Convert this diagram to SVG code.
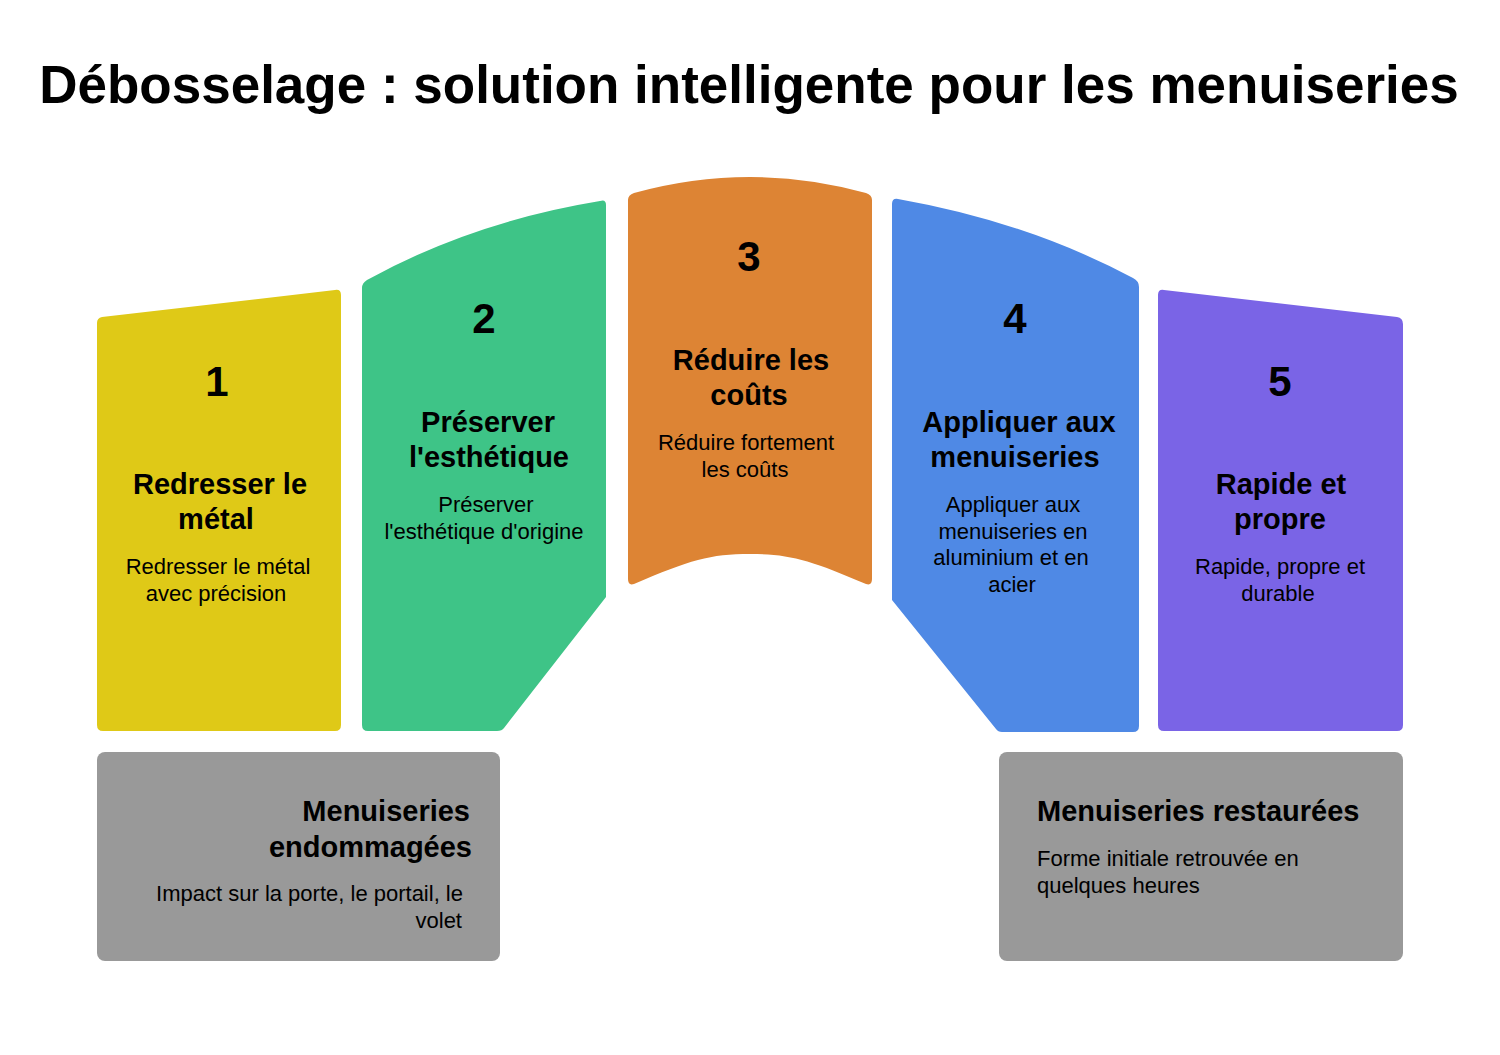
<svg xmlns="http://www.w3.org/2000/svg" width="1500" height="1055" viewBox="0 0 1500 1055">
<style>
text{font-family:"Liberation Sans",Arial,Helvetica,sans-serif;fill:#000;}
.title{font-size:53px;font-weight:bold;text-anchor:middle;}
.num{font-size:42px;font-weight:bold;text-anchor:middle;}
.head{font-size:29px;font-weight:bold;text-anchor:middle;}
.desc{font-size:22px;text-anchor:middle;}
.r{text-anchor:end;}
.l{text-anchor:start;}
.box{fill:#999999;}
</style>
<rect width="1500" height="1055" fill="#ffffff"/>
<text class="title" x="749" y="103">Débosselage : solution intelligente pour les menuiseries</text>

<g id="connectors"></g>

<g id="step1">
<path d="M97,323 Q97,318 102,317 L335,290 Q341,289 341,295 L341,725 Q341,731 335,731 L103,731 Q97,731 97,725 Z" fill="#DFC917"/>
<text class="num" x="217" y="396">1</text>
<text class="head" x="220" y="494">Redresser le</text>
<text class="head" x="216" y="529">métal</text>
<text class="desc" x="218" y="574">Redresser le métal</text>
<text class="desc" x="216" y="601">avec précision</text>
</g>

<g id="step2">
<path d="M362,288 Q362,283 367,280 Q472,222 600,201 Q606,199 606,205 L606,597 L504,728 Q502,731 497,731 L368,731 Q362,731 362,725 Z" fill="#3EC487"/>
<text class="num" x="484" y="333">2</text>
<text class="head" x="488" y="432">Préserver</text>
<text class="head" x="489" y="467">l'esthétique</text>
<text class="desc" x="486" y="512">Préserver</text>
<text class="desc" x="484" y="539">l'esthétique d'origine</text>
</g>

<g id="step3">
<path d="M628,200 Q628,195 634,193 Q750,161 866,193 Q872,195 872,200 L872,579 Q872,586 866,584 C810,560 790,554 750,554 C710,554 690,560 634,584 Q628,586 628,579 Z" fill="#DD8434"/>
<text class="num" x="749" y="271">3</text>
<text class="head" x="751" y="370">Réduire les</text>
<text class="head" x="749" y="405">coûts</text>
<text class="desc" x="746" y="450">Réduire fortement</text>
<text class="desc" x="745" y="477">les coûts</text>
</g>

<g id="step4">
<path d="M892,204 Q892,198 898,199 Q1028,222 1133,278 Q1139,281 1139,287 L1139,726 Q1139,732 1133,732 L1002,732 Q998,732 996,729 L892,600 Z" fill="#4F89E5"/>
<text class="num" x="1015" y="333">4</text>
<text class="head" x="1019" y="432">Appliquer aux</text>
<text class="head" x="1015" y="467">menuiseries</text>
<text class="desc" x="1013" y="512">Appliquer aux</text>
<text class="desc" x="1013" y="539">menuiseries en</text>
<text class="desc" x="1011" y="565">aluminium et en</text>
<text class="desc" x="1012" y="592">acier</text>
</g>

<g id="step5">
<path d="M1158,295 Q1158,289 1164,290 L1397,317 Q1403,318 1403,324 L1403,725 Q1403,731 1397,731 L1164,731 Q1158,731 1158,725 Z" fill="#7A64E6"/>
<text class="num" x="1280" y="396">5</text>
<text class="head" x="1281" y="494">Rapide et</text>
<text class="head" x="1280" y="529">propre</text>
<text class="desc" x="1280" y="574">Rapide, propre et</text>
<text class="desc" x="1278" y="601">durable</text>
</g>

<g id="before">
<rect class="box" x="97" y="752" width="403" height="209" rx="8"/>
<text class="head r" x="470" y="821">Menuiseries</text>
<text class="head r" x="472" y="857">endommagées</text>
<text class="desc r" x="463" y="901">Impact sur la porte, le portail, le</text>
<text class="desc r" x="462" y="928">volet</text>
</g>

<g id="after">
<rect class="box" x="999" y="752" width="404" height="209" rx="8"/>
<text class="head l" x="1037" y="821">Menuiseries restaurées</text>
<text class="desc l" x="1037" y="866">Forme initiale retrouvée en</text>
<text class="desc l" x="1037" y="893">quelques heures</text>
</g>
</svg>
